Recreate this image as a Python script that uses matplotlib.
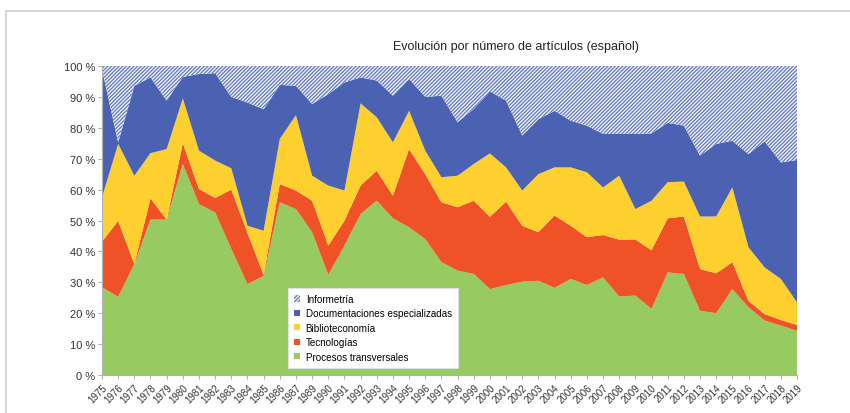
import matplotlib
matplotlib.use("Agg")
import matplotlib.pyplot as plt
from matplotlib.patches import Rectangle, Patch

# ---- data (porcentaje de artículos por año) ----
years = ["1975", "1976", "1977", "1978", "1979", "1980", "1981", "1982", "1983",
         "1984", "1985", "1986", "1987", "1989", "1990", "1991", "1992", "1993",
         "1994", "1995", "1996", "1997", "1998", "1999", "2000", "2001", "2002",
         "2003", "2004", "2005", "2006", "2007", "2008", "2009", "2010", "2011",
         "2012", "2013", "2014", "2015", "2016", "2017", "2018", "2019"]

procesos = [28.4, 25.3, 35.9, 50.3, 50.3, 68.3, 55.3, 52.6, 40.8, 29.4, 32.1,
            55.9, 53.7, 46.2, 32.4, 41.9, 52.1, 56.4, 50.7, 47.8, 44.0, 36.5,
            33.8, 32.7, 27.8, 29.1, 30.2, 30.5, 28.2, 31.1, 29.1, 31.6, 25.4,
            25.7, 21.4, 33.2, 32.7, 20.8, 20.0, 27.8, 21.9, 17.6, 16.0, 14.3]
tecnologias = [14.7, 24.6, 0.0, 6.9, 0.0, 6.7, 4.9, 4.7, 19.2, 16.6, 0.3,
               5.9, 6.0, 10.2, 9.5, 8.0, 9.2, 9.7, 7.3, 25.3, 21.0, 19.4,
               20.5, 23.7, 23.4, 27.0, 18.1, 15.7, 23.4, 17.2, 15.5, 13.7, 18.4,
               18.2, 19.0, 17.5, 18.6, 13.5, 12.9, 8.7, 2.1, 2.1, 1.8, 1.9]
biblioteconomia = [14.4, 24.9, 28.6, 14.6, 22.8, 14.5, 12.4, 12.1, 6.9, 2.3, 14.3,
                   14.6, 24.4, 8.1, 19.4, 9.8, 26.6, 17.3, 17.3, 12.4, 7.6, 8.1,
                   10.2, 11.9, 20.5, 11.1, 11.4, 18.8, 15.6, 18.9, 21.0, 15.4, 20.7,
                   9.8, 16.0, 11.7, 11.3, 17.0, 18.4, 24.2, 17.3, 15.1, 13.3, 7.3]
documentaciones = [41.5, 0.5, 29.1, 24.5, 15.7, 7.0, 24.8, 28.3, 23.1, 39.9, 39.3,
                   17.5, 9.5, 23.2, 29.6, 35.0, 8.4, 11.9, 15.1, 10.3, 17.4, 26.4,
                   17.3, 17.8, 20.1, 21.6, 17.8, 17.8, 18.3, 15.1, 15.1, 17.3, 13.5,
                   24.3, 21.8, 19.2, 18.1, 19.7, 23.5, 15.1, 30.2, 40.8, 37.7, 46.1]
informetria = [1.0, 24.7, 6.4, 3.7, 11.2, 3.5, 2.6, 2.3, 10.0, 11.8, 14.0,
               6.1, 6.4, 12.3, 9.1, 5.3, 3.7, 4.7, 9.6, 4.2, 10.0, 9.6,
               18.2, 13.9, 8.2, 11.2, 22.5, 17.2, 14.5, 17.7, 19.3, 22.0, 22.0,
               22.0, 21.8, 18.4, 19.3, 29.0, 25.2, 24.2, 28.5, 24.4, 31.2, 30.4]

labels = ["Procesos transversales", "Tecnologías", "Biblioteconomía",
          "Documentaciones especializadas", "Informetría"]

VERDE = "#97cb62"
ROJO = "#ef5227"
AMARILLO = "#fdd02f"
AZUL = "#4b62b2"
HATCH = "#5c70b8"

plt.rcParams['font.family'] = ['Liberation Sans', 'DejaVu Sans']
plt.rcParams['hatch.linewidth'] = 0.8

fig = plt.figure(figsize=(8.5, 4.14), dpi=100)
ax = fig.add_axes([102 / 850, 1 - 376 / 414, 695 / 850, 309 / 414])

# marco gris exterior
fig.patches.append(Rectangle((6 / 850, -0.1), 1.0, 1 - 12 / 414 + 0.1,
                             transform=fig.transFigure, fill=False,
                             edgecolor="#d0d0d0", linewidth=1.2))

x = list(range(len(years)))
polys = ax.stackplot(x, procesos, tecnologias, biblioteconomia, documentaciones,
                     informetria, colors=[VERDE, ROJO, AMARILLO, AZUL, "#e8ebf6"],
                     linewidth=0)
polys[4].set_edgecolor(HATCH)
polys[4].set_hatch("/////////")
polys[4].set_linewidth(0)

ax.set_xlim(0, len(years) - 1)
ax.set_ylim(0, 100)
ax.set_yticks(range(0, 101, 10))
ax.set_yticklabels([f"{v} %" for v in range(0, 101, 10)], fontsize=8, color="#333333")
ax.set_xticks(x)
ax.set_xticklabels(years, rotation=45, ha="right", rotation_mode="anchor",
                   fontsize=7, color="#333333")
ax.tick_params(axis="both", length=3, color="#b0b0b0", pad=2)
for s in ["top", "right"]:
    ax.spines[s].set_visible(False)
ax.spines["left"].set_color("#b0b0b0")
ax.spines["bottom"].set_color("#b0b0b0")

handles = [Patch(facecolor="#e8ebf6", edgecolor=HATCH, hatch="/////////", linewidth=0),
           Patch(facecolor=AZUL), Patch(facecolor=AMARILLO),
           Patch(facecolor=ROJO), Patch(facecolor=VERDE)]
leg_labels = labels[::-1]
leg = ax.legend(handles, leg_labels, loc="upper left",
                bbox_to_anchor=((283 - 102) / 695, (376 - 284) / 309),
                fontsize=7.1, frameon=True, fancybox=False, handlelength=0.6,
                handleheight=0.6, handletextpad=0.6, labelspacing=0.45,
                borderpad=0.6)
leg.get_frame().set_edgecolor("#e0e0e0")
leg.get_frame().set_linewidth(0.8)
leg.get_frame().set_alpha(1.0)

fig.text(516 / 850, 1 - 47 / 414, "Evolución por número de artículos (español)",
         ha="center", va="center", fontsize=9,
         family=['Liberation Sans Narrow', 'Liberation Sans', 'DejaVu Sans'],
         color="#222222")

fig.savefig("out.png", dpi=100)
